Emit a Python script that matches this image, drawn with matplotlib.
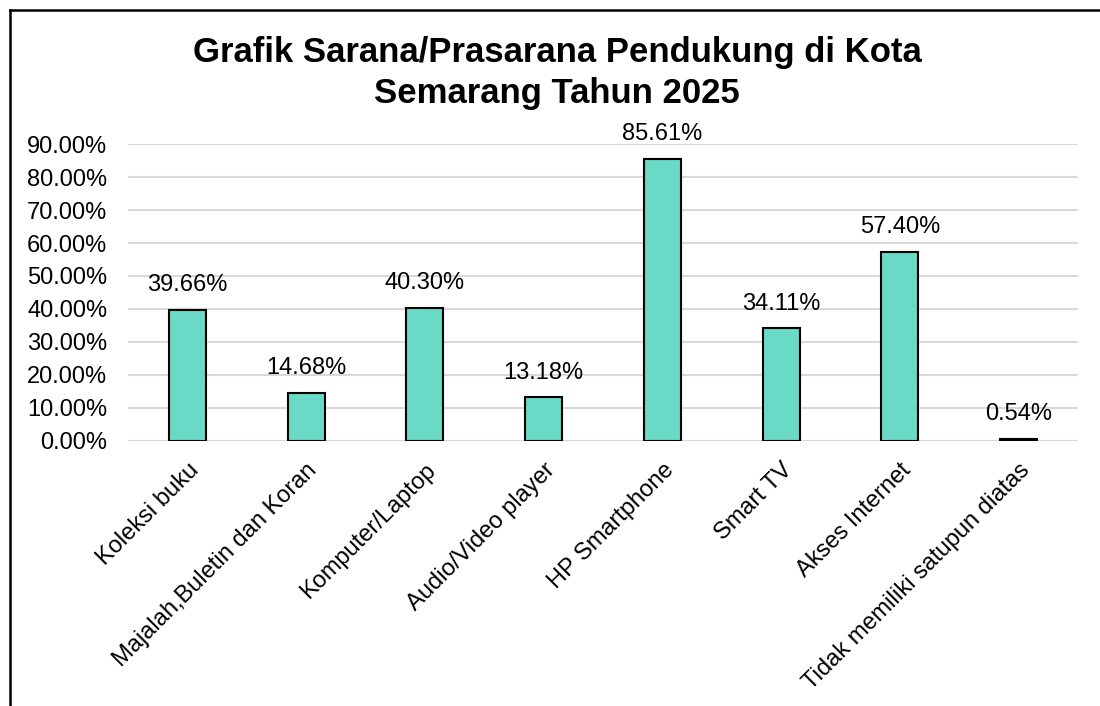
import matplotlib
matplotlib.use('Agg')
import matplotlib.pyplot as plt
from matplotlib.lines import Line2D
from matplotlib.ticker import FuncFormatter

categories = ['Koleksi buku', 'Majalah,Buletin dan Koran', 'Komputer/Laptop',
              'Audio/Video player', 'HP Smartphone', 'Smart TV', 'Akses Internet',
              'Tidak memiliki satupun diatas']
values = [39.66, 14.68, 40.30, 13.18, 85.61, 34.11, 57.40, 0.54]
yticks = [0, 10, 20, 30, 40, 50, 60, 70, 80, 90]

plt.rcParams['font.family'] = ['Liberation Sans', 'DejaVu Sans']

fig = plt.figure(figsize=(11, 7.06), dpi=100)
ax = fig.add_axes([0.1164, 0.3754, 0.8636, 0.4206])

x = list(range(len(categories)))
ax.bar(x, values, width=0.31, color='#6ad9c5', edgecolor='black', linewidth=1.5, zorder=3)

# data labels above bars
for xi, v in zip(x, values):
    ax.annotate(f'{v:.2f}%', (xi, v), xytext=(0, 10), textcoords='offset points',
                ha='center', va='bottom', fontsize=17, clip_on=False)

ax.set_xlim(-0.5, len(categories) - 0.5)
ax.set_ylim(0, 90)
ax.set_yticks(yticks)
ax.yaxis.set_major_formatter(FuncFormatter(lambda v, p: f'{v:.2f}%'))
ax.grid(axis='y', color='#d9d9d9', linewidth=1.5, zorder=0)
for s in ax.spines.values():
    s.set_visible(False)
ax.tick_params(axis='both', length=0, labelsize=17)
ax.tick_params(axis='y', pad=15)
ax.set_xticks(x)
ax.set_xticklabels(categories, rotation=45, ha='right', va='top', rotation_mode='anchor')
ax.tick_params(axis='x', pad=13)

fig.text(0.5064, 0.897, 'Grafik Sarana/Prasarana Pendukung di Kota\nSemarang Tahun 2025',
         ha='center', va='center', fontsize=25, fontweight='bold', linespacing=1.3)

# outer frame (left and top edges visible)
fig.add_artist(Line2D([0.0091, 0.0091], [0, 0.986], color='black', linewidth=1.8, transform=fig.transFigure))
fig.add_artist(Line2D([0.0091, 1.0], [0.986, 0.986], color='black', linewidth=1.8, transform=fig.transFigure))

fig.savefig('out.png', dpi=100)
